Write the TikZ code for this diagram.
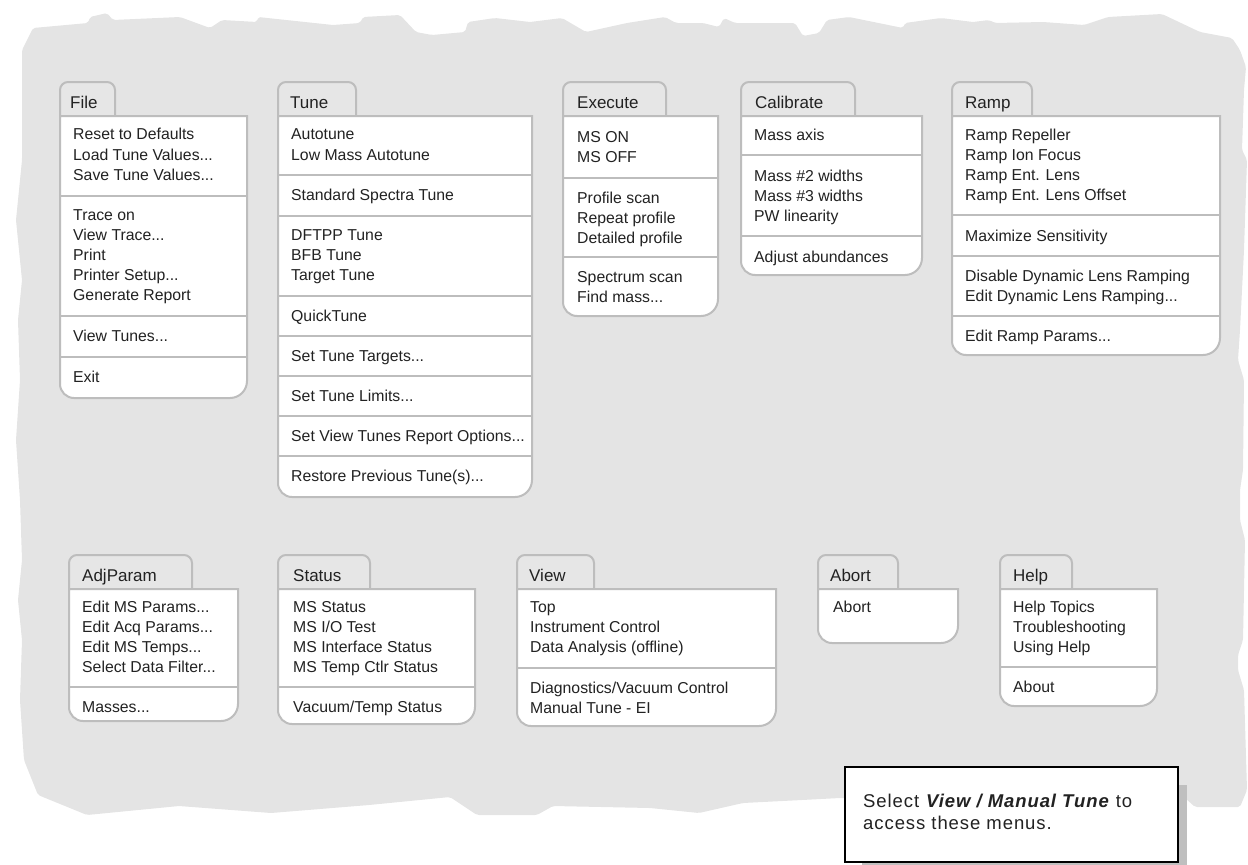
\documentclass[tikz,border=0pt]{standalone}
\usepackage{fontspec}
\setmainfont{Liberation Sans}
\newfontfamily\callfont[LetterSpace=5]{Liberation Sans}
\definecolor{bg}{HTML}{E4E4E4}
\definecolor{frame}{HTML}{BDBDBD}
\definecolor{tabfill}{HTML}{E6E6E6}
\definecolor{ink}{HTML}{222222}
\definecolor{shadowgray}{HTML}{BFBFBF}
\tikzset{
  menuframe/.style={draw=frame, line width=2pt, fill=white},
  tabframe/.style={draw=frame, line width=2pt, fill=tabfill},
  sepline/.style={draw=frame, line width=2pt},
  itemtext/.style={anchor=base west, inner sep=0pt, text=ink, font=\fontsize{15.8}{18}\selectfont},
  tabtext/.style={anchor=base west, inner sep=0pt, text=ink, font=\fontsize{17}{18}\selectfont},
  calltext/.style={anchor=base west, inner sep=0pt, text=ink, font=\callfont\fontsize{18.5}{22}\selectfont},
}
% #1 name, #2 left x, #3 tab top y, #4 tab right x, #5 box right x, #6 box bottom y, #7 label x, #8 label
\newcommand\menuShape[8]{%
  \draw[tabframe] (#2,#3+34) [rounded corners=8pt] -- (#2,#3) -- (#4,#3) -- (#4,#3+34);
  \draw[menuframe] (#2,#3+60) -- (#2,#3+34) -- (#5,#3+34) [rounded corners=17pt] -- (#5,#6) [rounded corners=14pt] -- (#2,#6) -- cycle;
  \node[tabtext] (#1-tab) at (#7,#3+20+6) {#8};
}
% #1 name, #2 x, #3 y center, #4 text
\newcommand\mitem[4]{\node[itemtext] (#1) at (#2,#3+5.6) {#4};}
% #1 left, #2 right, #3 y
\newcommand\msep[3]{\draw[sepline] (#1,#3) -- (#2,#3);}

\begin{document}
\begin{tikzpicture}[x=1pt,y=-1pt]
\useasboundingbox (0,0) rectangle (1248,865);
% torn background
\fill[bg, rounded corners=2pt] (33,28) -- (88,23) -- (90,17) -- (107,13) -- (113,20) -- (180,17) -- (210,28) -- (222,20) -- (257,22) -- (258,17) -- (333,25) -- (360,23) -- (363,17) -- (400,15) -- (416,32) -- (432,35) -- (465,32) -- (468,22) -- (495,18) -- (530,22) -- (562,18) -- (586,32) -- (627,23) -- (665,17) -- (676,23) -- (703,23) -- (719,27) -- (724,18) -- (735,23) -- (795,23) -- (803,36) -- (819,33) -- (827,20) -- (849,17) -- (903,28) -- (905,23) -- (941,18) -- (973,22) -- (989,20) -- (995,23) -- (1043,22) -- (1084,25) -- (1108,17) -- (1162,14) -- (1200,32) -- (1232,38) -- (1240,50) -- (1246,67)
 -- (1244,90) -- (1242,150) -- (1247,160) -- (1244,250) -- (1240,330) -- (1238,360) -- (1244,380) -- (1243,470) -- (1240,490) -- (1240,520) -- (1245,540) -- (1243,640) -- (1238,655) -- (1238,670) -- (1244,690) -- (1247,790) -- (1240,807)
 -- (1195,807) -- (1185,798) -- (840,798) -- (802,800) -- (743,803) -- (699,813) -- (650,808) -- (553,806) -- (537,815) -- (477,815) -- (450,797) -- (369,805) -- (271,813) -- (179,806) -- (87,815) -- (38,795)
 -- (24,760) -- (20,700) -- (22,640) -- (18,600) -- (22,560) -- (20,500) -- (16,440) -- (20,380) -- (18,320) -- (22,280) -- (16,220) -- (22,160) -- (22,100) -- (22,50) -- cycle;

% ---------- File ----------
\menuShape{file}{60}{82}{115}{247}{398}{70}{File}
\mitem{file-1}{73}{134}{Reset to Defaults}
\mitem{file-2}{73}{155}{Load Tune Values...}
\mitem{file-3}{73}{175}{Save Tune Values...}
\msep{60}{247}{196}
\mitem{file-4}{73}{215}{Trace on}
\mitem{file-5}{73}{235}{View Trace...}
\mitem{file-6}{73}{255}{Print}
\mitem{file-7}{73}{275}{Printer Setup...}
\mitem{file-8}{73}{295}{Generate Report}
\msep{60}{247}{316}
\mitem{file-9}{73}{336}{View Tunes...}
\msep{60}{247}{357}
\mitem{file-10}{73}{377}{Exit}

% ---------- Tune ----------
\menuShape{tune}{278}{82}{356}{532}{497}{290}{Tune}
\mitem{tune-1}{291}{134}{Autotune}
\mitem{tune-2}{291}{155}{Low Mass Autotune}
\msep{278}{532}{175}
\mitem{tune-3}{291}{195}{Standard Spectra Tune}
\msep{278}{532}{216}
\mitem{tune-4}{291}{235}{DFTPP Tune}
\mitem{tune-5}{291}{255}{BFB Tune}
\mitem{tune-6}{291}{275}{Target Tune}
\msep{278}{532}{296}
\mitem{tune-7}{291}{316}{QuickTune}
\msep{278}{532}{336}
\mitem{tune-8}{291}{356}{Set Tune Targets...}
\msep{278}{532}{376}
\mitem{tune-9}{291}{396}{Set Tune Limits...}
\msep{278}{532}{416}
\mitem{tune-10}{291}{436}{Set View Tunes Report Options...}
\msep{278}{532}{456}
\mitem{tune-11}{291}{476}{Restore Previous Tune(s)...}

% ---------- Execute ----------
\menuShape{exec}{563}{82}{666}{718}{316}{577}{Execute}
\mitem{exec-1}{577}{137}{MS ON}
\mitem{exec-2}{577}{157}{MS OFF}
\msep{563}{718}{178}
\mitem{exec-3}{577}{198}{Profile scan}
\mitem{exec-4}{577}{218}{Repeat profile}
\mitem{exec-5}{577}{238}{Detailed profile}
\msep{563}{718}{257}
\mitem{exec-6}{577}{277}{Spectrum scan}
\mitem{exec-7}{577}{297}{Find mass...}

% ---------- Calibrate ----------
\menuShape{cal}{741}{82}{855}{922}{275}{755}{Calibrate}
\mitem{cal-1}{754}{135}{Mass axis}
\msep{741}{922}{155}
\mitem{cal-2}{754}{176}{Mass \#2 widths}
\mitem{cal-3}{754}{196}{Mass \#3 widths}
\mitem{cal-4}{754}{216}{PW linearity}
\msep{741}{922}{236}
\mitem{cal-5}{754}{257}{Adjust abundances}

% ---------- Ramp ----------
\menuShape{ramp}{952}{82}{1032}{1220}{355}{965}{Ramp}
\mitem{ramp-1}{965}{135}{Ramp Repeller}
\mitem{ramp-2}{965}{155}{Ramp Ion Focus}
\mitem{ramp-3}{965}{175}{Ramp Ent. Lens}
\mitem{ramp-4}{965}{195}{Ramp Ent. Lens Offset}
\msep{952}{1220}{215}
\mitem{ramp-5}{965}{236}{Maximize Sensitivity}
\msep{952}{1220}{256}
\mitem{ramp-6}{965}{276}{Disable Dynamic Lens Ramping}
\mitem{ramp-7}{965}{296}{Edit Dynamic Lens Ramping...}
\msep{952}{1220}{316}
\mitem{ramp-8}{965}{336}{Edit Ramp Params...}

% ---------- AdjParam ----------
\menuShape{adj}{69}{555}{192}{238}{721}{82}{AdjParam}
\mitem{adj-1}{82}{607}{Edit MS Params...}
\mitem{adj-2}{82}{627}{Edit Acq Params...}
\mitem{adj-3}{82}{647}{Edit MS Temps...}
\mitem{adj-4}{82}{667}{Select Data Filter...}
\msep{69}{238}{687}
\mitem{adj-5}{82}{707}{Masses...}

% ---------- Status ----------
\menuShape{stat}{278}{555}{370}{475}{724}{293}{Status}
\mitem{stat-1}{293}{607}{MS Status}
\mitem{stat-2}{293}{627}{MS I/O Test}
\mitem{stat-3}{293}{647}{MS Interface Status}
\mitem{stat-4}{293}{667}{MS Temp Ctlr Status}
\msep{278}{475}{687}
\mitem{stat-5}{293}{707}{Vacuum/Temp Status}

% ---------- View ----------
\menuShape{view}{517}{555}{594}{776}{726}{529}{View}
\mitem{view-1}{530}{607}{Top}
\mitem{view-2}{530}{627}{Instrument Control}
\mitem{view-3}{530}{647}{Data Analysis (offline)}
\msep{517}{776}{668}
\mitem{view-4}{530}{688}{Diagnostics/Vacuum Control}
\mitem{view-5}{530}{708}{Manual Tune - EI}

% ---------- Abort ----------
\menuShape{abort}{818}{555}{898}{958}{643}{830}{Abort}
\mitem{abort-1}{833}{607}{Abort}

% ---------- Help ----------
\menuShape{help}{1000}{555}{1072}{1157}{706}{1013}{Help}
\mitem{help-1}{1013}{607}{Help Topics}
\mitem{help-2}{1013}{627}{Troubleshooting}
\mitem{help-3}{1013}{647}{Using Help}
\msep{1000}{1157}{667}
\mitem{help-4}{1013}{687}{About}

% ---------- callout ----------
\fill[shadowgray] (862,785) rectangle (1187,880);
\draw[fill=white, draw=black, line width=2.2pt] (845,767) rectangle (1178,862);
\node[calltext] (call-1) at (863,807) {Select \textbf{\textit{View / Manual Tune}} to};
\node[calltext] (call-2) at (863,829) {access these menus.};
\end{tikzpicture}
\end{document}
